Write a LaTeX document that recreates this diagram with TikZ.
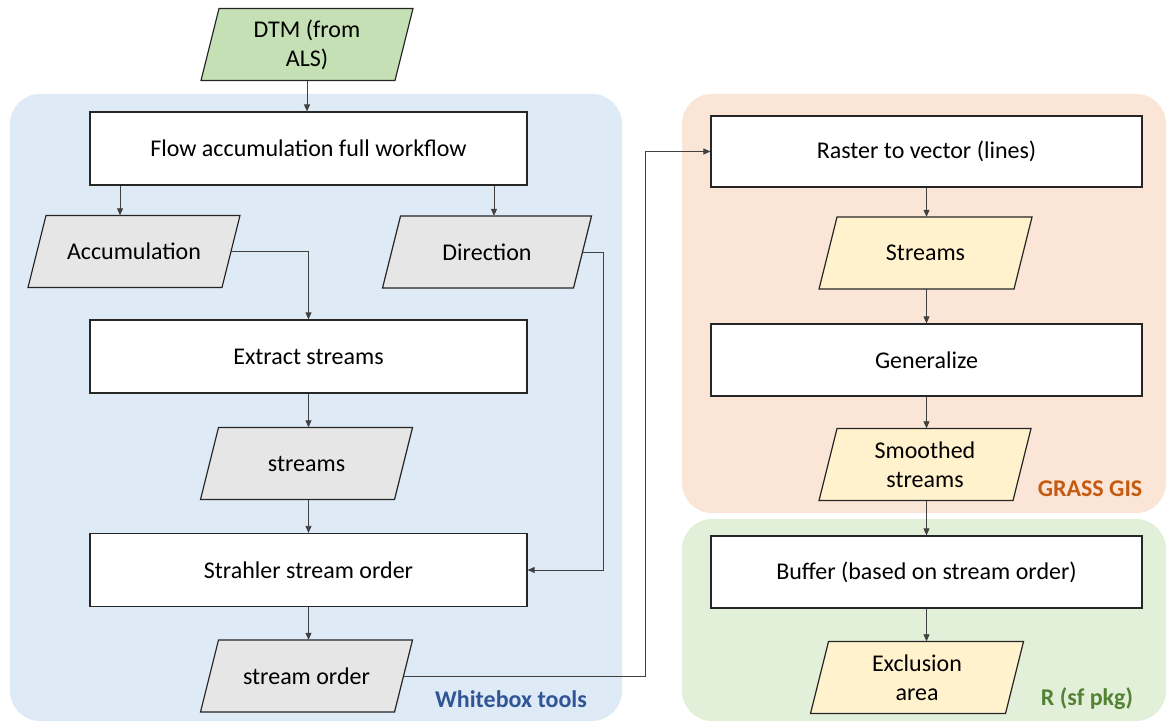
\documentclass[tikz,border=0pt]{standalone}
\usepackage{fontspec}
\setmainfont{Carlito}
\usetikzlibrary{arrows.meta}
\definecolor{bluepanel}{HTML}{DEEAF6}
\definecolor{orangepanel}{HTML}{FBE5D6}
\definecolor{greenpanel}{HTML}{E2F0D9}
\definecolor{grayfill}{HTML}{E7E6E6}
\definecolor{yellowfill}{HTML}{FFF2CC}
\definecolor{greenfill}{HTML}{C5E0B4}
\definecolor{wbblue}{HTML}{2F5597}
\definecolor{grassor}{HTML}{C55A11}
\definecolor{rgreen}{HTML}{548235}
\definecolor{edge}{HTML}{262626}
\definecolor{conn}{HTML}{404040}
\tikzset{
  txt/.style={inner sep=0pt, align=center, font=\fontsize{24}{29}\selectfont},
  box/.style={txt, draw=edge, line width=1.2pt, fill=white, minimum width=437pt, minimum height=73pt},
  pgline/.style={draw=edge, line width=1.2pt},
  conn/.style={draw=conn, line width=0.8pt, -{Triangle[length=7pt,width=6pt]}},
  plain/.style={draw=conn, line width=0.8pt},
  panel/.style={rounded corners=30pt},
  lbl/.style={font=\fontsize{24}{29}\selectfont\bfseries, inner sep=0pt}
}
\newcommand\pgram[6]{%
  \path[pgline, fill=#5] (#2-#4/2+9, #3-36) -- (#2+#4/2+9, #3-36) -- (#2+#4/2-9, #3+36) -- (#2-#4/2-9, #3+36) -- cycle;
  \node[txt, minimum width=#4pt, minimum height=72pt] (#1) at (#2,#3) {#6};}
\begin{document}
\begin{tikzpicture}[x=1pt,y=-1pt]
\useasboundingbox (0,0) rectangle (1166,722);
\clip (0,0) rectangle (1166,722);
% panels
\fill[bluepanel, panel] (10,94) rectangle (622,721);
\fill[orangepanel, panel] (682,94) rectangle (1166,513);
\fill[greenpanel, panel] (682,519) rectangle (1166,721);
% left column
\pgram{dtm}{307}{44.5}{194}{greenfill}{DTM (from\\ALS)}
\node[box] (flow) at (308.5,148.5) {Flow accumulation full workflow};
\pgram{acc}{134}{251.5}{194}{grayfill}{Accumulation}
\pgram{dir}{487}{252}{191}{grayfill}{Direction}
\node[box] (extract) at (308.5,356.5) {Extract streams};
\pgram{streams}{306.5}{463.5}{194}{grayfill}{streams}
\node[box] (strahler) at (308.5,570) {Strahler stream order};
\pgram{sorder}{306.5}{676}{194}{grayfill}{stream order}
% right column
\node[box, minimum width=431pt, minimum height=71pt] (raster) at (926.5,151.5) {Raster to vector (lines)};
\pgram{streamsy}{925.5}{253}{195}{yellowfill}{Streams}
\node[box, minimum width=431pt, minimum height=72pt] (gen) at (926.5,360) {Generalize};
\pgram{smooth}{925}{464.5}{194}{yellowfill}{Smoothed\\streams}
\node[box, minimum width=431pt, minimum height=72pt] (buffer) at (926.5,572) {Buffer (based on stream order)};
\pgram{excl}{917}{677.5}{195}{yellowfill}{Exclusion\\area}
% labels
\node[lbl, text=wbblue] (wblbl) at (511,699) {Whitebox tools};
\node[lbl, text=grassor] (grasslbl) at (1090,489) {GRASS GIS};
\node[lbl, text=rgreen] (rlbl) at (1087,699) {R (sf pkg)};
% connectors
\coordinate (jx) at (645,0);
\coordinate (kx) at (120,0);
\coordinate (lx) at (494,0);
\coordinate (dx) at (603,0);
\draw[conn] (dtm.south) -- (dtm.south |- flow.north);
\draw[conn] (flow.south -| kx) -- (kx |- acc.north);
\draw[conn] (flow.south -| lx) -- (lx |- dir.north);
\draw[conn] (acc.east) -| (extract.north);
\draw[conn] (extract.south) -- (extract.south |- streams.north);
\draw[conn] (streams.south -| extract.south) -- (strahler.north);
\draw[conn] (dir.east) -- (dir.east -| dx) -- (dx |- strahler.east) -- (strahler.east);
\draw[conn] (strahler.south) -- (strahler.south |- sorder.north);
\draw[conn] (sorder.east) -- (sorder.east -| jx) -- (jx |- raster.west) -- (raster.west);
\draw[conn] (raster.south) -- (raster.south |- streamsy.north);
\draw[conn] (streamsy.south -| raster.south) -- (gen.north);
\draw[conn] (gen.south) -- (gen.south |- smooth.north);
\draw[conn] (smooth.south -| gen.south) -- (buffer.north);
\draw[conn] (buffer.south) -- (buffer.south |- excl.north);
\end{tikzpicture}
\end{document}
